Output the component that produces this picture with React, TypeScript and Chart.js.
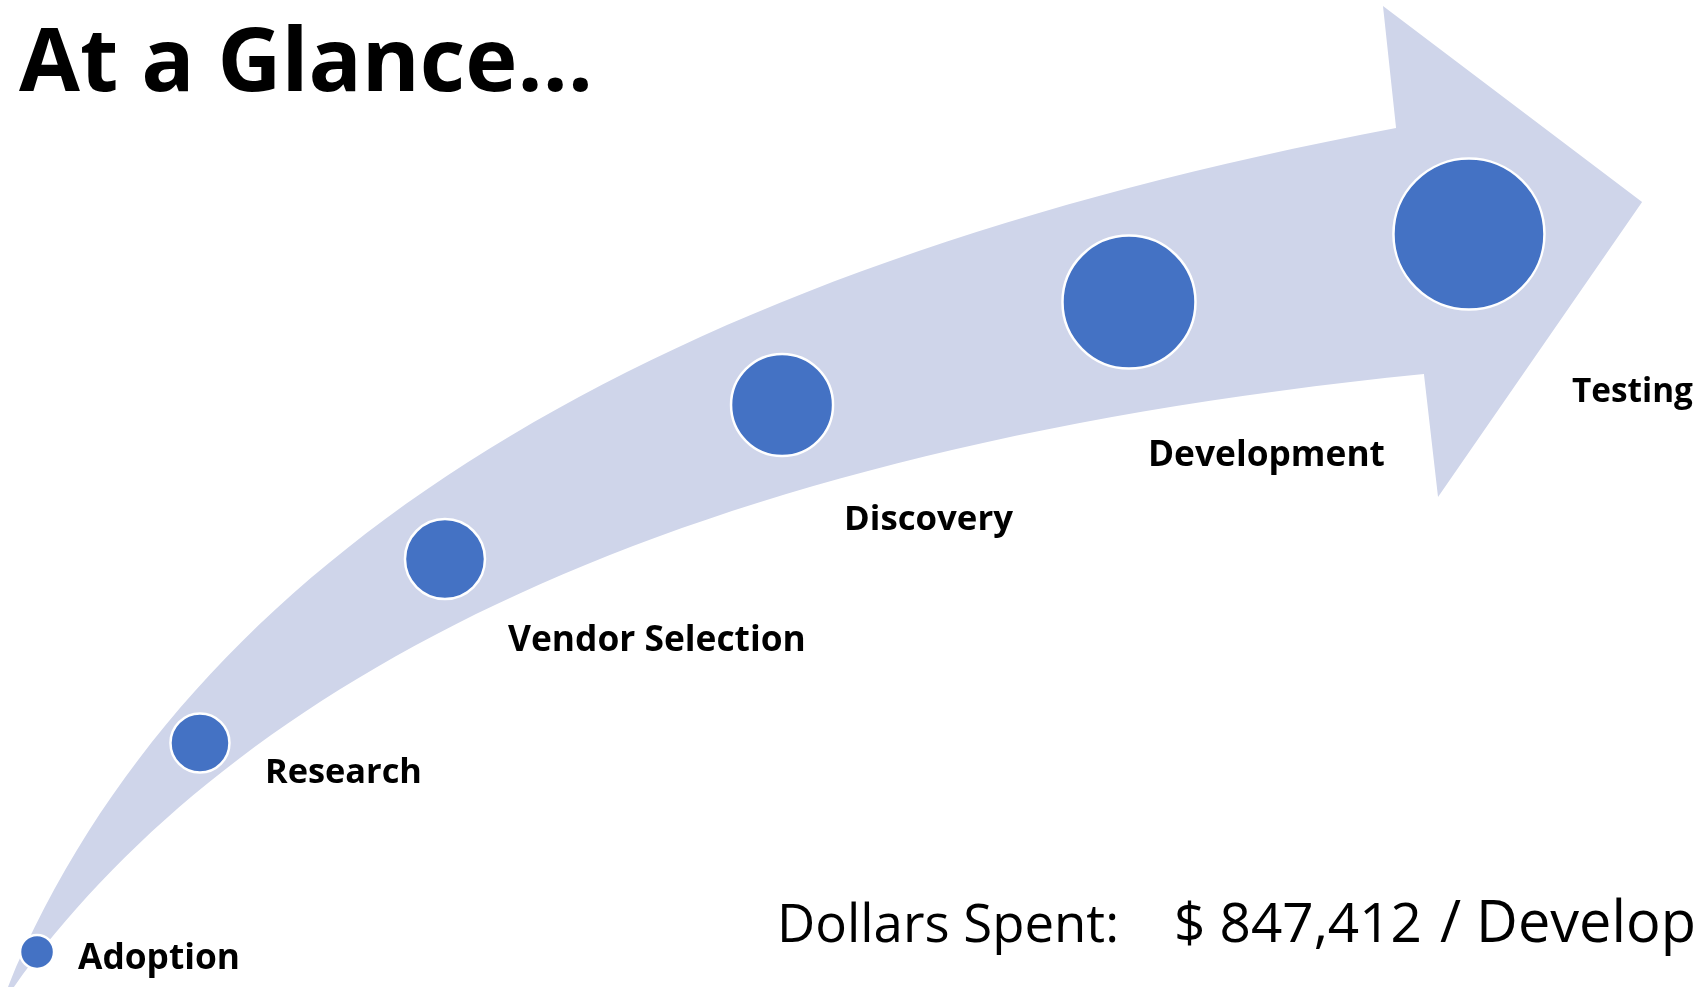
import React, { useEffect, useRef } from "react";
import { Chart, registerables } from "chart.js";

Chart.register(...registerables);

// ---- data ----
const STAGES = ["Adoption", "Research", "Vendor Selection", "Discovery", "Development", "Testing"];
const STAGE_X = [2.18, 11.77, 26.19, 46.03, 66.45, 86.46];
const STAGE_Y = [3.55, 24.72, 43.36, 58.97, 69.4, 76.29];
const STAGE_R = [17, 29.5, 40, 51, 66.5, 75.5];

const TITLE = "At a Glance…";
const SPEND_LABEL = "Dollars Spent:";
const SPEND_AMOUNT = "$ 847,412";
const SPEND_STAGE = "/ Development";

// arrow outline (data units): cubic bezier edges [start, control1, control2, end]
const ARROW_UPPER_X = [0.47, 11.02, 38.26, 82.17];
const ARROW_UPPER_Y = [0, 43.7, 72.72, 87.03];
const ARROW_HEAD_X = [81.4, 96.65, 84.64, 83.81];
const ARROW_HEAD_Y = [99.39, 79.53, 49.65, 62.11];
const ARROW_LOWER_X = [83.81, 36.96, 12.88, 0.82];
const ARROW_LOWER_Y = [62.11, 54.04, 28.76, 0];

// ---- layout / style ----
const W = 1699;
const H = 987;
const LABEL_OFFSET: [number, number][] = [
  [41, 17],
  [65, 40],
  [63, 92],
  [62, 125],
  [19, 164],
  [103, 168],
];
const LABEL_WIDTH = [162, 157, 298, 169, 237, 121];
const FONT = '"Open Sans", "Noto Sans", sans-serif';

function fitSize(ctx: CanvasRenderingContext2D, text: string, weight: string, target: number) {
  ctx.font = `${weight} 100px ${FONT}`;
  const w = ctx.measureText(text).width;
  return (100 * target) / w;
}

const arrowPlugin = {
  id: "arrowBg",
  beforeDatasetsDraw(chart: any) {
    const { ctx, scales } = chart;
    const xs = scales.x;
    const ys = scales.y;
    const map = (X: number[], Y: number[]) =>
      X.map((v, i) => [xs.getPixelForValue(v), ys.getPixelForValue(Y[i])] as [number, number]);
    const up = map(ARROW_UPPER_X, ARROW_UPPER_Y);
    const head = map(ARROW_HEAD_X, ARROW_HEAD_Y);
    const lo = map(ARROW_LOWER_X, ARROW_LOWER_Y);
    ctx.save();
    ctx.beginPath();
    ctx.moveTo(up[0][0], up[0][1]);
    ctx.bezierCurveTo(up[1][0], up[1][1], up[2][0], up[2][1], up[3][0], up[3][1]);
    head.forEach((p) => ctx.lineTo(p[0], p[1]));
    ctx.lineTo(lo[0][0], lo[0][1]);
    ctx.bezierCurveTo(lo[1][0], lo[1][1], lo[2][0], lo[2][1], lo[3][0], lo[3][1]);
    ctx.closePath();
    ctx.fillStyle = "#CFD5EA";
    ctx.fill();
    ctx.restore();
  },
};

const textPlugin = {
  id: "texts",
  afterDatasetsDraw(chart: any) {
    const { ctx } = chart;
    const meta = chart.getDatasetMeta(0);
    ctx.save();
    ctx.fillStyle = "#000000";
    ctx.textBaseline = "alphabetic";
    ctx.textAlign = "left";

    // title
    const ts = fitSize(ctx, TITLE, "bold", 574);
    ctx.font = `bold ${ts}px ${FONT}`;
    ctx.fillText(TITLE, 19, 91);

    // stage labels
    meta.data.forEach((el: any, i: number) => {
      const [dx, dy] = LABEL_OFFSET[i];
      const s = fitSize(ctx, STAGES[i], "bold", LABEL_WIDTH[i]);
      ctx.font = `bold ${s}px ${FONT}`;
      ctx.fillText(STAGES[i], el.x + dx, el.y + dy);
    });

    // spend line
    const s1 = fitSize(ctx, SPEND_LABEL, "normal", 342);
    ctx.font = `normal ${s1}px ${FONT}`;
    ctx.fillText(SPEND_LABEL, 777, 942);
    const s2 = fitSize(ctx, SPEND_AMOUNT, "normal", 248);
    ctx.font = `normal ${s2}px ${FONT}`;
    ctx.fillText(SPEND_AMOUNT, 1174, 942);
    const s3 = fitSize(ctx, "/ Develop", "normal", 256);
    ctx.font = `normal ${s3}px ${FONT}`;
    ctx.fillText(SPEND_STAGE, 1440, 942);
    ctx.restore();
  },
};

export default function App() {
  const ref = useRef<HTMLCanvasElement | null>(null);
  useEffect(() => {
    document.body.style.margin = "0";
    const canvas = ref.current!;
    const chart = new Chart(canvas, {
      type: "bubble",
      data: {
        datasets: [
          {
            label: "Stages",
            data: STAGES.map((_, i) => ({ x: STAGE_X[i], y: STAGE_Y[i], r: STAGE_R[i] })),
            backgroundColor: "#4472C4",
            borderColor: "#FFFFFF",
            borderWidth: 2.5,
            clip: false as any,
          },
        ],
      },
      options: {
        animation: false,
        responsive: false,
        devicePixelRatio: 1,
        events: [],
        layout: { padding: 0, autoPadding: false },
        scales: {
          x: { type: "linear", min: 0, max: 100, display: false },
          y: { type: "linear", min: 0, max: 100, display: false },
        },
        plugins: { legend: { display: false }, tooltip: { enabled: false } },
      },
      plugins: [arrowPlugin, textPlugin],
    });
    (document as any).fonts?.ready?.then(() => chart.draw());
    return () => chart.destroy();
  }, []);
  return (
    <div style={{ position: "absolute", left: 0, top: 0, width: W, height: H, background: "#FFFFFF" }}>
      <canvas ref={ref} width={W} height={H} style={{ display: "block", width: W, height: H }} />
    </div>
  );
}
